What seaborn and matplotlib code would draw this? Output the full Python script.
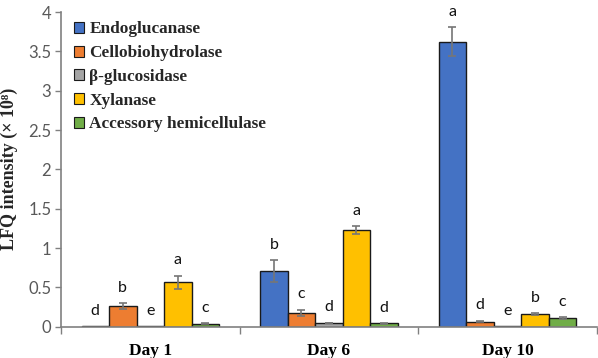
import numpy as np
import pandas as pd
import matplotlib
matplotlib.use("Agg")
import matplotlib.pyplot as plt
import seaborn as sns

days = ["Day 1", "Day 6", "Day 10"]
enzymes = ["Endoglucanase", "Cellobiohydrolase", "\u03b2-glucosidase", "Xylanase",
           "Accessory hemicellulase"]
colors = ["#4472C4", "#ED7D31", "#A5A5A5", "#FFC000", "#70AD47"]

# values per enzyme, across days
endo_vals = [0.005, 0.705, 3.62]
cello_vals = [0.265, 0.175, 0.065]
beta_vals = [0.004, 0.048, 0.004]
xyl_vals = [0.565, 1.23, 0.16]
acc_vals = [0.04, 0.042, 0.108]

endo_err = [0.0, 0.14, 0.185]
cello_err = [0.035, 0.04, 0.01]
beta_err = [0.0, 0.005, 0.0]
xyl_err = [0.085, 0.05, 0.012]
acc_err = [0.004, 0.003, 0.012]

endo_let = ["d", "b", "a"]
cello_let = ["b", "c", "d"]
beta_let = ["e", "d", "e"]
xyl_let = ["a", "a", "b"]
acc_let = ["c", "d", "c"]

vals = [endo_vals, cello_vals, beta_vals, xyl_vals, acc_vals]
errs = [endo_err, cello_err, beta_err, xyl_err, acc_err]
lets = [endo_let, cello_let, beta_let, xyl_let, acc_let]

rows = []
for e, v in zip(enzymes, vals):
    for d, x in zip(days, v):
        rows.append({"day": d, "enzyme": e, "value": x})
df = pd.DataFrame(rows)

sns.set_style("white")
plt.rcParams["font.family"] = ["Lato", "DejaVu Sans"]

fig = plt.figure(figsize=(5.98, 3.58), dpi=100)
ax = fig.add_axes([0.102, 0.0874, 0.896, 0.879])

sns.barplot(data=df, x="day", y="value", hue="enzyme", order=days,
            hue_order=enzymes, palette=colors, saturation=1, errorbar=None,
            width=0.77, edgecolor="#1a1a1a", linewidth=1.0, ax=ax, legend=True)

# error bars and letters
containers = list(ax.containers)[:len(enzymes)]
for ci, cont in enumerate(containers):
    for di, patch in enumerate(cont.patches):
        xc = patch.get_x() + patch.get_width() / 2
        h = patch.get_height()
        e = errs[ci][di]
        if e > 0:
            ax.errorbar(xc, h, yerr=e, fmt="none", ecolor="#767676",
                        elinewidth=1.2, capsize=3, capthick=1.2, zorder=5)
        ax.annotate(lets[ci][di], (xc, h + e), xytext=(0, 6),
                    textcoords="offset points", ha="center", va="bottom",
                    fontsize=11.5, color="#111111")

ax.set_ylim(0, 4)
ax.set_xlim(-0.5, 2.5)
ax.set_yticks(np.arange(0, 4.01, 0.5))
ax.set_yticklabels(["0", "0.5", "1", "1.5", "2", "2.5", "3", "3.5", "4"])
ax.tick_params(axis="y", labelsize=12, labelcolor="#595959", color="#808080",
               length=4, width=1, left=True, direction="out", pad=3)

ax.set_xticks([0, 1, 2])
ax.set_xticklabels(days, fontdict={"family": "Liberation Serif",
                                   "weight": "bold", "size": 12.5})
ax.tick_params(axis="x", length=0, pad=11.5, labelcolor="black")
ax.set_xticks([-0.5, 0.5, 1.5, 2.5], minor=True)
ax.tick_params(axis="x", which="minor", length=5, width=1, color="#808080",
               bottom=True, direction="out")

for s in ["top", "right"]:
    ax.spines[s].set_visible(False)
for s in ["left", "bottom"]:
    ax.spines[s].set_color("#808080")
    ax.spines[s].set_linewidth(1.2)

ax.set_xlabel("")
ax.set_ylabel("LFQ intensity (\u00d7 10\u2078)",
              fontfamily=["Liberation Serif", "DejaVu Serif"],
              fontweight="bold", fontsize=13)
ax.yaxis.set_label_coords(-0.080, 0.5)

leg = ax.legend(loc="upper left", bbox_to_anchor=(0.024, 0.97), frameon=False,
                prop={"family": "Liberation Serif", "weight": "bold", "size": 12.4},
                handlelength=0.6, handleheight=0.6, handletextpad=0.3,
                labelspacing=0.45, borderaxespad=0, borderpad=0)
for h in leg.legend_handles:
    h.set_edgecolor("#1a1a1a")
    h.set_linewidth(0.8)

fig.savefig("out.png", dpi=100)
